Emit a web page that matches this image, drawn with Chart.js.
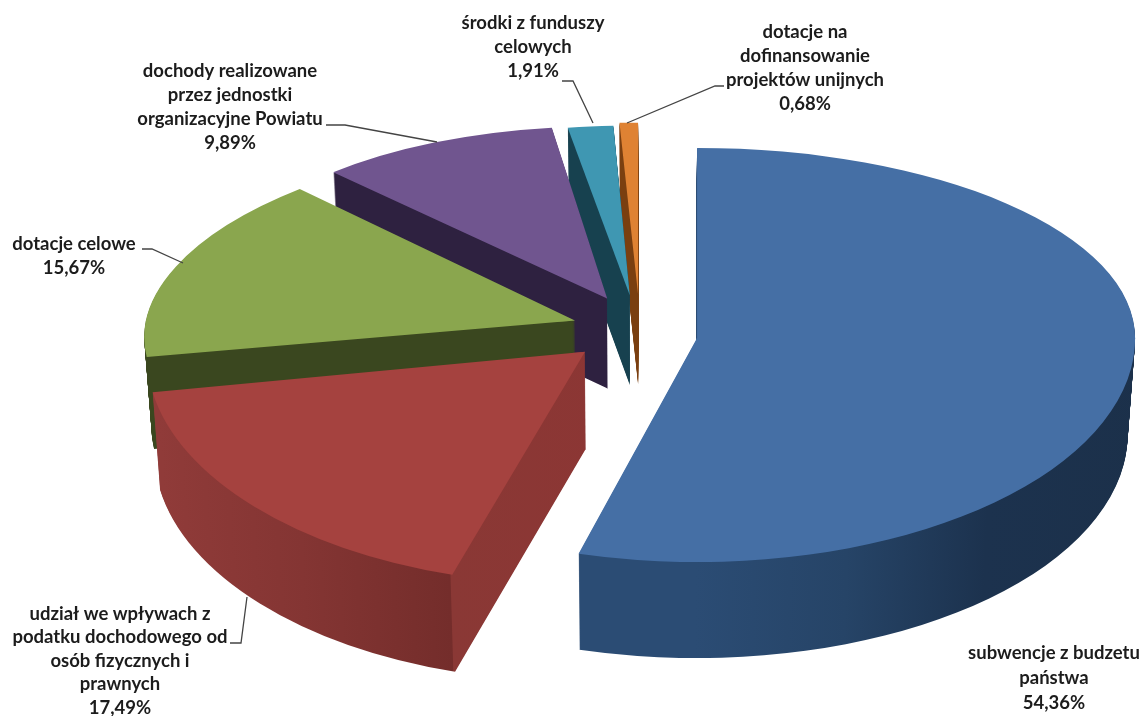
<!DOCTYPE html>
<html>
<head>
<meta charset="utf-8">
<style>
html, body { margin: 0; padding: 0; background: #fff; }
canvas { display: block; }
</style>
<script src="https://cdn.jsdelivr.net/npm/chart.js@4"></script>
</head>
<body>
<canvas id="myChart" width="1142" height="716"></canvas>
<script>
const categories = [
    'subwencje z budzetu państwa',
    'udział we wpływach z podatku dochodowego od osób fizycznych i prawnych',
    'dotacje celowe',
    'dochody realizowane przez jednostki organizacyjne Powiatu',
    'środki z funduszy celowych',
    'dotacje na dofinansowanie projektów unijnych'
];
const values = [54.36, 17.49, 15.67, 9.89, 1.91, 0.68];
const labelLines = [
    ['subwencje z budzetu', 'państwa'],
    ['udział we wpływach z', 'podatku dochodowego od', 'osób fizycznych i', 'prawnych'],
    ['dotacje celowe'],
    ['dochody realizowane', 'przez jednostki', 'organizacyjne Powiatu'],
    ['środki z funduszy', 'celowych'],
    ['dotacje na', 'dofinansowanie', 'projektów unijnych']
];

// colours
const topColors = ['#456fa5', '#a5423f', '#8aa64e', '#70558f', '#3f97b2', '#df8233'];
const sideStops = [
    [[570, '#2b4c74'], [720, '#264467'], [860, '#1c324e'], [1140, '#1b2f47']],
    [[150, '#903b39'], [300, '#843533'], [451, '#742d2b'], [452, '#8a3835'], [590, '#8c3634']],
    [[0, '#3a471f'], [1142, '#3a471f']],
    [[0, '#2e2140'], [1142, '#2e2140']],
    [[0, '#17414f'], [1142, '#17414f']],
    [[0, '#7a3f10'], [1142, '#7a3f10']]
];

// fake 3D view, every slice gets its own squash so the perspective of the original is kept
const pieCenterX = 640;
const pieCenterY = 330;
const pieRadius = 435;
const explode = [57.6, 75, 68, 72, 100, 90];
const shiftY = [4, -5.5, -1, -6, 4, 0];
const stretchX = [1.007, 1.007, 0.986, 0.913, 0.88, 1];
const skewX = [0, -0.034, -0.09, -0.021, 0, 0];
const tiltY = [0, 0.013, 0, 0.014, 0, 0];
const squashUp = [0.437, 0.536, 0.427, 0.396, 0.39, 0.395];
const squashDown = [0.515, 0.536, 0.427, 0.396, 0.39, 0.395];
const depth = [96, 97, 92, 90, 90, 90];
const shrink = 0.985;

// label layout
const labelCenters = [[1054, 653], [120, 614], [74, 244], [230, 71], [533, 23], [805, 32]];
const labelLineHeight = [25, 23.5, 24, 24, 24, 24];
const leaders = [
    null,
    [[230, 643], [241, 643], [247, 597]],
    [[142, 249], [152, 249], [183, 263]],
    [[326, 125], [345, 125], [437, 142]],
    [[562, 81], [573, 81], [593, 123]],
    [[724, 86], [715, 86], [627, 123]]
];

function percent(v) {
    return v.toFixed(2).replace('.', ',') + '%';
}

function sideFill(ctx, i) {
    const g = ctx.createLinearGradient(0, 0, 1142, 0);
    sideStops[i].forEach(s => g.addColorStop(s[0] / 1142, s[1]));
    return g;
}

// the library's offset option trims small arcs, so the explosion is done here
function paintArc(ctx, arc, i, squash, drop, shrunk, top, bottom) {
    const mid = (arc.startAngle + arc.endAngle) / 2;
    const dirX = Math.cos(mid) * explode[i];
    const dirY = Math.sin(mid) * explode[i];
    ctx.save();
    ctx.beginPath();
    ctx.rect(0, top, 1142, bottom - top);
    ctx.clip();
    ctx.translate(pieCenterX + dirX * shrunk, pieCenterY + shiftY[i] + dirY * squashDown[i] + drop);
    ctx.transform(stretchX[i] * shrunk, tiltY[i], skewX[i] * shrunk, squash, 0, 0);
    ctx.translate(-arc.x, -arc.y);
    arc.draw(ctx);
    ctx.restore();
}

const pie3d = {
    id: 'pie3d',
    beforeDatasetDraw(chart, args) {
        const ctx = chart.ctx;
        const arcs = args.meta.data;
        // back slices first, the front ones cover their walls
        for (let i = arcs.length - 1; i >= 0; i--) {
            const arc = arcs[i];
            const mid = (arc.startAngle + arc.endAngle) / 2;
            const seam = pieCenterY + shiftY[i] + Math.sin(mid) * explode[i] * squashDown[i];
            const face = arc.options.backgroundColor;
            arc.options.backgroundColor = sideFill(ctx, i);
            for (let d = depth[i]; d > 0; d--) {
                const shrunk = 1 - (1 - shrink) * d / depth[i];
                paintArc(ctx, arc, i, squashUp[i], d, shrunk, 0, seam + d + 1);
                paintArc(ctx, arc, i, squashDown[i], d, shrunk, seam + d, 900);
            }
            arc.options.backgroundColor = face;
            paintArc(ctx, arc, i, squashUp[i], 0, 1, 0, seam + 1);
            paintArc(ctx, arc, i, squashDown[i], 0, 1, seam, 900);
        }
        return false;
    },
    afterDraw(chart) {
        const ctx = chart.ctx;
        ctx.save();
        ctx.strokeStyle = '#444';
        ctx.lineWidth = 1.3;
        leaders.forEach(pts => {
            if (!pts) return;
            ctx.beginPath();
            pts.forEach((p, k) => k ? ctx.lineTo(p[0], p[1]) : ctx.moveTo(p[0], p[1]));
            ctx.stroke();
        });
        ctx.fillStyle = '#1c1c1c';
        ctx.font = 'bold 18.5px Lato';
        ctx.textAlign = 'center';
        ctx.textBaseline = 'middle';
        labelLines.forEach((lines, i) => {
            const c = labelCenters[i];
            lines.concat(percent(values[i])).forEach((t, k) => {
                ctx.fillText(t, c[0], c[1] + k * labelLineHeight[i]);
            });
        });
        ctx.restore();
    }
};

new Chart(document.getElementById('myChart').getContext('2d'), {
    type: 'pie',
    data: {
        labels: categories,
        datasets: [{
            data: values,
            backgroundColor: topColors,
            borderWidth: 0,
            clip: false
        }]
    },
    options: {
        responsive: false,
        animation: false,
        radius: pieRadius,
        events: [],
        layout: { padding: 0 },
        plugins: { legend: { display: false }, tooltip: { enabled: false } }
    },
    plugins: [pie3d]
});
</script>
</body>
</html>
